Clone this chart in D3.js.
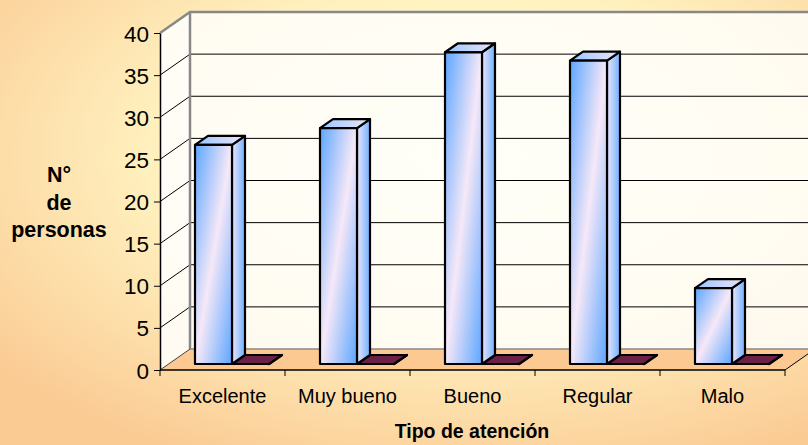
<!DOCTYPE html>
<html>
<head>
<meta charset="utf-8">
<script src="https://cdn.jsdelivr.net/npm/d3@7"></script>
<style>
body { margin: 0; overflow: hidden; }
svg { display: block; }
text { font-family: Arial, "Liberation Sans", sans-serif; fill: #000; }
</style>
</head>
<body>
<script>
/* chart data */
var categories = ["Excelente", "Muy bueno", "Bueno", "Regular", "Malo"];
var personas = [26, 28, 37, 36, 9];
var otros = [0, 0, 0, 0, 0];
var yTicks = [0, 5, 10, 15, 20, 25, 30, 35, 40];
var yTitle = ["N°", "de", "personas"];
var xTitle = "Tipo de atención";

var width = 808, height = 445;
var wall = { dx: 30, dy: -21 },     // depth of the 3d box
    box = { dx: 13, dy: -9 },       // depth of a single bar
    barLift = -6;                   // bars stand a bit behind the front edge

var x = d3.scaleBand().domain(categories).range([160, 785]);
var series = d3.scaleBand().domain(["personas", "otros"]).range([35, 109]);
var y = d3.scaleLinear().domain([0, 40]).range([370, 33]);

var svg = d3.select("body").append("svg")
    .attr("width", width)
    .attr("height", height);

var defs = svg.append("defs");

var bg = defs.append("radialGradient").attr("id", "bg")
    .attr("cx", 0.58).attr("cy", 0.35).attr("r", 0.75);
bg.append("stop").attr("offset", 0).attr("stop-color", "#fffcd8");
bg.append("stop").attr("offset", 0.5).attr("stop-color", "#fff2c0");
bg.append("stop").attr("offset", 1).attr("stop-color", "#fbcb94");

function grad(id, x2, y2, stops) {
    var g = defs.append("linearGradient").attr("id", id)
        .attr("x1", 0).attr("y1", 0).attr("x2", x2).attr("y2", y2);
    stops.forEach(function(s) {
        g.append("stop").attr("offset", s[0]).attr("stop-color", s[1]);
    });
}
grad("front", 1, 1, [[0, "#5ca6ff"], [0.5, "#f6e8f8"], [1, "#5ca6ff"]]);
grad("side", 1, 0, [[0, "#ece6fb"], [1, "#70b0ff"]]);
grad("top", 1, 0, [[0, "#9ac6ff"], [1, "#ece4f8"]]);

svg.append("rect").attr("width", width).attr("height", height).attr("fill", "url(#bg)");

var x0 = x.range()[0], x1 = x.range()[1];
var y0 = y(0), yTop = y(40);

function pts(a) { return a.map(function(p) { return p.join(","); }).join(" "); }

/* back wall */
svg.append("rect")
    .attr("x", x0 + wall.dx).attr("y", yTop + wall.dy)
    .attr("width", width).attr("height", y0 - yTop)
    .attr("fill", "#fff").attr("fill-opacity", 0.8);

/* side wall */
svg.append("polygon")
    .attr("points", pts([[x0, yTop], [x0 + wall.dx, yTop + wall.dy], [x0 + wall.dx, y0 + wall.dy], [x0, y0]]))
    .attr("fill", "#fff").attr("fill-opacity", 0.85);

/* floor */
svg.append("polygon")
    .attr("points", pts([[x0, y0], [x1, y0], [x1 + wall.dx, y0 + wall.dy], [x0 + wall.dx, y0 + wall.dy]]))
    .attr("fill", "#fdc993");

/* grid lines */
var inner = yTicks.filter(function(d) { return d > 0 && d < 40; });
svg.selectAll(".gridBack").data(inner).enter().append("line")
    .attr("x1", x0 + wall.dx).attr("x2", width)
    .attr("y1", function(d) { return y(d) + wall.dy; })
    .attr("y2", function(d) { return y(d) + wall.dy; })
    .attr("stroke", "#000").attr("stroke-width", 1);
svg.selectAll(".gridSide").data(inner).enter().append("line")
    .attr("x1", x0).attr("x2", x0 + wall.dx)
    .attr("y1", function(d) { return y(d); })
    .attr("y2", function(d) { return y(d) + wall.dy; })
    .attr("stroke", "#000").attr("stroke-width", 1);

/* wall borders */
svg.append("polyline")
    .attr("points", pts([[x0, yTop], [x0 + wall.dx, yTop + wall.dy], [width, yTop + wall.dy]]))
    .attr("fill", "none").attr("stroke", "#888").attr("stroke-width", 2.5);
svg.append("line")
    .attr("x1", x0 + wall.dx).attr("x2", x0 + wall.dx)
    .attr("y1", yTop + wall.dy).attr("y2", y0 + wall.dy)
    .attr("stroke", "#888").attr("stroke-width", 2.5);
svg.append("line")
    .attr("x1", x0 + wall.dx).attr("x2", width)
    .attr("y1", y0 + wall.dy).attr("y2", y0 + wall.dy)
    .attr("stroke", "#888").attr("stroke-width", 1.5);
svg.append("polyline")
    .attr("points", pts([[x0, y0], [x0 + wall.dx, y0 + wall.dy]]))
    .attr("fill", "none").attr("stroke", "#444").attr("stroke-width", 1);
svg.append("polyline")
    .attr("points", pts([[x1, y0], [x1 + wall.dx, y0 + wall.dy]]))
    .attr("fill", "none").attr("stroke", "#000").attr("stroke-width", 1);

/* bars: zero series first, then the blue columns */
function drawBar(g, left, w, v, fills) {
    var b = y0 + barLift, t = y(v) + barLift, r = left + w;
    g.append("polygon")
        .attr("points", pts([[r, b], [r + box.dx, b + box.dy], [r + box.dx, t + box.dy], [r, t]]))
        .attr("fill", fills.side);
    g.append("polygon")
        .attr("points", pts([[left, t], [r, t], [r + box.dx, t + box.dy], [left + box.dx, t + box.dy]]))
        .attr("fill", fills.top);
    if (b - t > 0) {
        g.append("rect")
            .attr("x", left).attr("y", t).attr("width", w).attr("height", b - t)
            .attr("fill", fills.front);
    }
    g.selectAll("*").attr("stroke", "#000").attr("stroke-width", 2.2)
        .attr("stroke-linejoin", "round");
}

var cols = svg.selectAll(".cat").data(categories).enter().append("g");
cols.each(function(c, i) {
    var g = d3.select(this);
    drawBar(g, x(c) + series("otros"), series.bandwidth(), otros[i],
        { front: "#6a2145", side: "#6a2145", top: "#6a2145" });
    drawBar(g, x(c) + series("personas"), series.bandwidth(), personas[i],
        { front: "url(#front)", side: "url(#side)", top: "url(#top)" });
});

/* y axis */
var yAxis = svg.append("g")
    .attr("transform", "translate(" + x0 + ",0)")
    .call(d3.axisLeft(y).tickValues(yTicks).tickSize(6).tickSizeOuter(0).tickPadding(5));
yAxis.select(".domain").attr("stroke", "#000").attr("stroke-width", 1.5);
yAxis.selectAll("text").style("font-size", "22.5px").attr("dy", "0.36em");

/* x axis: ticks on category boundaries, labels in the middle */
var bounds = categories.map(function(c) { return x(c); }).concat([x1]);
svg.append("line")
    .attr("x1", x0).attr("x2", x1).attr("y1", y0).attr("y2", y0)
    .attr("stroke", "#000").attr("stroke-width", 1.5);
svg.selectAll(".xtick").data(bounds).enter().append("line")
    .attr("x1", function(d) { return d; }).attr("x2", function(d) { return d; })
    .attr("y1", y0).attr("y2", y0 + 6)
    .attr("stroke", "#000");
svg.selectAll(".xlabel").data(categories).enter().append("text")
    .attr("x", function(d) { return x(d) + x.bandwidth() / 2; })
    .attr("y", 403)
    .attr("text-anchor", "middle")
    .style("font-size", "20px")
    .text(function(d) { return d; });

/* titles */
svg.selectAll(".ytitle").data(yTitle).enter().append("text")
    .attr("x", 59)
    .attr("y", function(d, i) { return [182, 210, 237][i]; })
    .attr("text-anchor", "middle")
    .style("font-size", "21.5px").style("font-weight", "bold")
    .text(function(d) { return d; });

svg.append("text")
    .attr("x", 472).attr("y", 438)
    .attr("text-anchor", "middle")
    .style("font-size", "19.5px").style("font-weight", "bold")
    .text(xTitle);
</script>
</body>
</html>
